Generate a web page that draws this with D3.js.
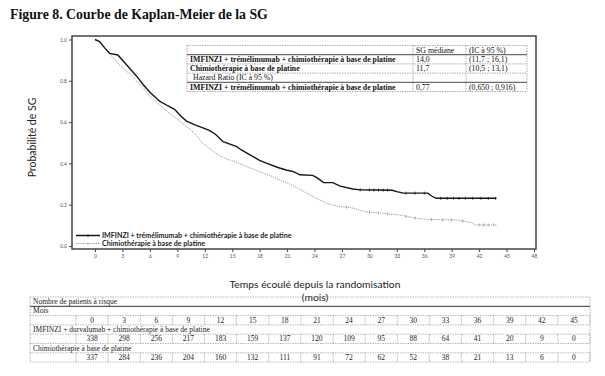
<!DOCTYPE html>
<html>
<head>
<meta charset="utf-8">
<script src="https://cdn.jsdelivr.net/npm/d3@7"></script>
<style>
  body { margin: 0; background: #fff; }
  svg { display: block; }
</style>
</head>
<body>
<div id="chart"></div>
<script>
// tick values
const xTicks = [0, 3, 6, 9, 12, 15, 18, 21, 24, 27, 30, 33, 36, 39, 42, 45, 48];
const yTicks = [0, 0.2, 0.4, 0.6, 0.8, 1.0];

// courbes KM [mois, survie]
const imfinziCurve = [
  [0, 1.0], [0.5, 0.99], [1.1, 0.957], [1.6, 0.933], [2.5, 0.925], [3.3, 0.885],
  [4.0, 0.85], [4.6, 0.82], [5.3, 0.78], [6.0, 0.745], [7.1, 0.70], [8.0, 0.678],
  [8.7, 0.662], [9.4, 0.628], [10.0, 0.605], [11.0, 0.585], [11.8, 0.572], [12.5, 0.56],
  [13.2, 0.54], [14.0, 0.505], [15.5, 0.481], [16.0, 0.465], [17.0, 0.44], [18.0, 0.415],
  [18.8, 0.40], [20.0, 0.38], [21.0, 0.367], [21.7, 0.36], [22.4, 0.345], [23.8, 0.342],
  [24.3, 0.33], [25.0, 0.307], [26.0, 0.307], [26.8, 0.29], [28.2, 0.276], [29.0, 0.272],
  [30.8, 0.271], [32.5, 0.27], [33.0, 0.263], [33.7, 0.256], [36.4, 0.256], [36.8, 0.242],
  [37.3, 0.231], [43.9, 0.231]
];
const chimioCurve = [
  [0, 1.0], [0.5, 0.99], [1.0, 0.962], [1.8, 0.92], [2.6, 0.88], [3.5, 0.845],
  [4.4, 0.805], [5.3, 0.765], [6.0, 0.725], [6.9, 0.69], [7.8, 0.655], [8.7, 0.625],
  [9.65, 0.59], [10.4, 0.565], [11.1, 0.535], [11.7, 0.50], [12.6, 0.47], [13.5, 0.44],
  [14.5, 0.42], [15.5, 0.405], [16.8, 0.38], [18.0, 0.36], [19.2, 0.34], [20.2, 0.32],
  [21.3, 0.30], [22.4, 0.275], [23.2, 0.255], [24.0, 0.235], [25.3, 0.207], [26.8, 0.19],
  [27.9, 0.187], [28.8, 0.175], [29.7, 0.166], [31.5, 0.158], [33.3, 0.15], [34.8, 0.137],
  [36.3, 0.129], [39.5, 0.126], [40.6, 0.118], [41.2, 0.112], [41.5, 0.102], [43.9, 0.102]
];
// patients censurés (mois)
const imfinziCensor = [29, 30, 30.5, 31, 31.5, 32, 34, 35, 36, 37.8, 38.5, 39.2, 39.8, 40.5, 41.3, 42.2, 43, 43.8];
const chimioCensor = [27.5, 30, 31, 32, 34, 35, 36.8, 38, 39, 40.2, 42, 42.5, 43, 43.6];

// tableau médiane
const summaryHeader = ["", "SG médiane", "(IC à 95 %)"];
const summaryRows = [
  ["IMFINZI + trémélimumab  + chimiothérapie à base de platine", "14,0", "(11,7 ; 16,1)", true],
  ["Chimiothérapie à base de platine", "11,7", "(10,5 ; 13,1)", true],
  ["Hazard Ratio (IC à 95 %)", "", "", false],
  ["IMFINZI + trémélimumab  + chimiothérapie à base de platine", "0,77", "(0,650 ; 0,916)", true]
];

// patients à risque
const riskMonths = [0, 3, 6, 9, 12, 15, 18, 21, 24, 27, 30, 33, 36, 39, 42, 45];
const riskImfinzi = [338, 298, 256, 217, 183, 159, 137, 120, 109, 95, 88, 64, 41, 20, 9, 0];
const riskChimio = [337, 284, 236, 204, 160, 132, 111, 91, 72, 62, 52, 38, 21, 13, 6, 0];

const legendLabels = ["IMFINZI + trémélimumab + chimiothérapie  à base de platine", "Chimiothérapie  à base de platine"];

const W = 605, H = 376;
const svg = d3.select("#chart").append("svg")
    .attr("width", W)
    .attr("height", H);

const sans = "Lato, 'Open Sans', sans-serif";
const serif = "'Liberation Serif', 'Times New Roman', serif";

svg.append("text")
    .attr("x", 10)
    .attr("y", 19)
    .style("font-family", serif)
    .style("font-weight", "bold")
    .style("font-size", "13.8px")
    .attr("fill", "#111")
    .text("Figure 8. Courbe de Kaplan-Meier de la SG");

const x = d3.scaleLinear().domain([0, 48]).range([95, 534]);
const y = d3.scaleLinear().domain([0, 1]).range([246, 39.5]);

const frame = { left: 72, right: 536, top: 36, bottom: 249 };

// axes
const xAxis = svg.append("g")
    .attr("transform", `translate(0,${frame.bottom})`)
    .call(d3.axisBottom(x).tickValues(xTicks).tickSize(3).tickPadding(2).tickFormat(d3.format("d")));
const yAxis = svg.append("g")
    .attr("transform", `translate(${frame.left},0)`)
    .call(d3.axisLeft(y).tickValues(yTicks).tickSize(3).tickPadding(2).tickFormat(d3.format(".1f")));

[xAxis, yAxis].forEach(a => {
    a.select(".domain").remove();
    a.selectAll("line").attr("stroke", "#444");
    a.selectAll("text")
        .style("font-family", sans)
        .style("font-size", "5px")
        .attr("fill", "#555");
});

svg.append("rect")
    .attr("x", frame.left)
    .attr("y", frame.top)
    .attr("width", frame.right - frame.left)
    .attr("height", frame.bottom - frame.top)
    .attr("fill", "none")
    .attr("stroke", "#444")
    .attr("stroke-width", 1.5);

svg.append("text")
    .attr("transform", `translate(36,${(frame.top + frame.bottom) / 2 - 5}) rotate(-90)`)
    .attr("text-anchor", "middle")
    .style("font-family", sans)
    .style("font-size", "10.5px")
    .attr("fill", "#222")
    .text("Probabilité de SG");

svg.append("text")
    .attr("x", 315)
    .attr("y", 288)
    .attr("text-anchor", "middle")
    .style("font-family", sans)
    .style("font-size", "10.3px")
    .attr("fill", "#222")
    .text("Temps écoulé depuis la randomisation");
svg.append("text")
    .attr("x", 315)
    .attr("y", 301)
    .attr("text-anchor", "middle")
    .style("font-family", sans)
    .style("font-size", "10.3px")
    .attr("fill", "#222")
    .text("(mois)");

// courbes
const line = d3.line().x(d => x(d[0])).y(d => y(d[1]));

function survAt(curve, m) {
    for (let i = 1; i < curve.length; i++) {
        if (m <= curve[i][0]) {
            const a = curve[i - 1], b = curve[i];
            const t = (m - a[0]) / (b[0] - a[0]);
            return a[1] + t * (b[1] - a[1]);
        }
    }
    return curve[curve.length - 1][1];
}

const series = [
    { curve: chimioCurve, censor: chimioCensor, color: "#9a9a9a", width: 1, dash: "1.2,1" },
    { curve: imfinziCurve, censor: imfinziCensor, color: "#161616", width: 1.4, dash: null }
];

series.forEach(s => {
    svg.append("path")
        .datum(s.curve)
        .attr("d", line)
        .attr("fill", "none")
        .attr("stroke", s.color)
        .attr("stroke-width", s.width)
        .attr("stroke-dasharray", s.dash);

    svg.selectAll(null)
        .data(s.censor)
        .enter()
        .append("line")
        .attr("x1", d => x(d))
        .attr("x2", d => x(d))
        .attr("y1", d => y(survAt(s.curve, d)) - 1.5)
        .attr("y2", d => y(survAt(s.curve, d)) + 1.5)
        .attr("stroke", s.color)
        .attr("stroke-width", 0.8);
});

// légende
const legendItems = [
    { label: legendLabels[0], color: "#161616", width: 1.5, dash: null, y: 235.5 },
    { label: legendLabels[1], color: "#9a9a9a", width: 1, dash: "1.2,1", y: 243.5 }
];
legendItems.forEach(d => {
    svg.append("line")
        .attr("x1", 76).attr("x2", 100)
        .attr("y1", d.y).attr("y2", d.y)
        .attr("stroke", d.color)
        .attr("stroke-width", d.width)
        .attr("stroke-dasharray", d.dash);
    svg.append("line")
        .attr("x1", 88).attr("x2", 88)
        .attr("y1", d.y - 1.3).attr("y2", d.y + 1.3)
        .attr("stroke", d.color)
        .attr("stroke-width", 0.7);
    svg.append("text")
        .attr("x", 102)
        .attr("y", d.y + 2.4)
        .style("font-family", sans)
        .style("font-weight", "bold")
        .style("font-size", "7.1px")
        .attr("fill", "#222")
        .text(d.label);
});

// tableau dans le graphe
const cols = [187, 413, 466, 527];
const rowH = 9.2, tTop = 45.5;
const tab = svg.append("g");
tab.append("rect")
    .attr("x", cols[0]).attr("y", tTop)
    .attr("width", cols[3] - cols[0]).attr("height", rowH * 5)
    .attr("fill", "#fff");

const allRows = [summaryHeader.concat([false])].concat(summaryRows);
allRows.forEach((r, i) => {
    const ty = tTop + rowH * i + rowH / 2 + 2.6;
    r.slice(0, 3).forEach((txt, j) => {
        tab.append("text")
            .attr("x", cols[j] + (i === 3 && j === 0 ? 6 : 3))
            .attr("y", ty)
            .style("font-family", serif)
            .style("font-size", "7.8px")
            .style("font-weight", j === 0 && r[3] ? "bold" : "normal")
            .attr("fill", "#111")
            .text(txt);
    });
});
for (let i = 0; i <= 5; i++) {
    const solid = i === 1 || i === 4;
    tab.append("line")
        .attr("x1", cols[0]).attr("x2", cols[3])
        .attr("y1", tTop + rowH * i).attr("y2", tTop + rowH * i)
        .attr("stroke", solid ? "#333" : "#777")
        .attr("stroke-width", solid ? 0.9 : 0.6)
        .attr("stroke-dasharray", solid ? null : "1.5,1");
}
cols.forEach(cx => {
    tab.append("line")
        .attr("x1", cx).attr("x2", cx)
        .attr("y1", tTop).attr("y2", tTop + rowH * 5)
        .attr("stroke", "#777")
        .attr("stroke-width", 0.6)
        .attr("stroke-dasharray", "1.5,1");
});

// patients à risque
const rTop = 297, rH = 9.3, rLeft = 30, rRight = 590, cellStart = 76;
const cellW = (rRight - cellStart) / riskMonths.length;
const risk = svg.append("g");
const riskLabels = ["Nombre de patients à risque", "Mois", riskMonths,
    "IMFINZI + durvalumab + chimiothérapie à base de platine", riskImfinzi,
    "Chimiothérapie à base de platine", riskChimio];

riskLabels.forEach((r, i) => {
    const ty = rTop + rH * i + rH / 2 + 2.5;
    if (typeof r === "string") {
        risk.append("text")
            .attr("x", rLeft + 3)
            .attr("y", ty)
            .style("font-family", serif)
            .style("font-size", "7.5px")
            .attr("fill", "#222")
            .text(r);
    } else {
        r.forEach((v, j) => {
            risk.append("text")
                .attr("x", cellStart + cellW * (j + 0.5))
                .attr("y", ty)
                .attr("text-anchor", "middle")
                .style("font-family", serif)
                .style("font-size", "7.5px")
                .attr("fill", "#222")
                .text(v);
        });
        for (let j = 0; j <= r.length; j++) {
            risk.append("line")
                .attr("x1", cellStart + cellW * j).attr("x2", cellStart + cellW * j)
                .attr("y1", rTop + rH * i).attr("y2", rTop + rH * (i + 1))
                .attr("stroke", "#888")
                .attr("stroke-width", 0.6)
                .attr("stroke-dasharray", "1.5,1");
        }
    }
});
for (let i = 0; i <= riskLabels.length; i++) {
    const solid = i === 1;
    risk.append("line")
        .attr("x1", rLeft).attr("x2", rRight)
        .attr("y1", rTop + rH * i).attr("y2", rTop + rH * i)
        .attr("stroke", solid ? "#333" : "#888")
        .attr("stroke-width", solid ? 1 : 0.6)
        .attr("stroke-dasharray", solid ? null : "1.5,1");
}
[rLeft, rRight].forEach(cx => {
    risk.append("line")
        .attr("x1", cx).attr("x2", cx)
        .attr("y1", rTop).attr("y2", rTop + rH * riskLabels.length)
        .attr("stroke", "#888")
        .attr("stroke-width", 0.6)
        .attr("stroke-dasharray", "1.5,1");
});
</script>
</body>
</html>
